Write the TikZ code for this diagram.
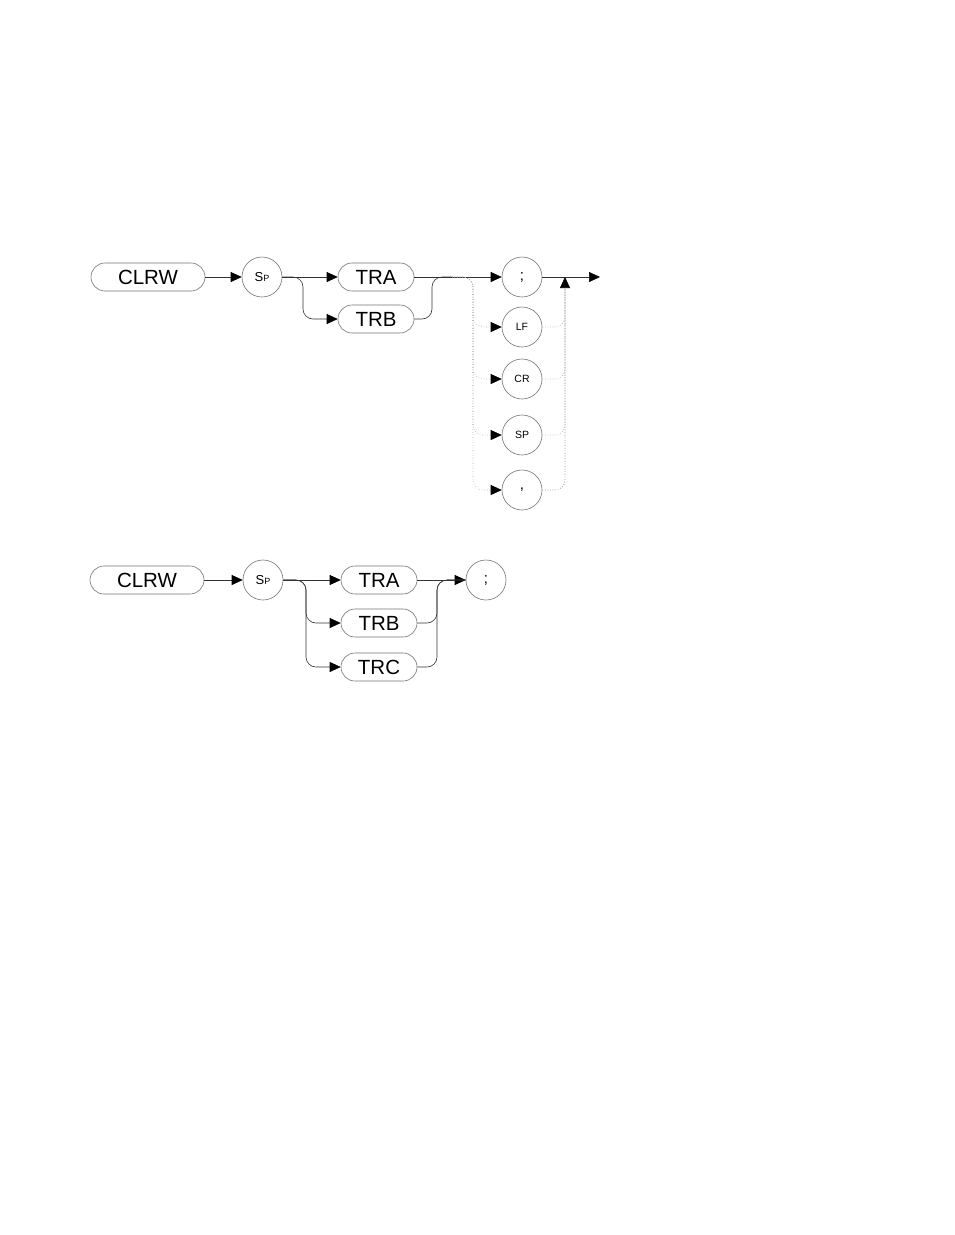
\documentclass[tikz,border=0pt]{standalone}
\usepackage{fontspec}
\setmainfont{Liberation Sans}
\usetikzlibrary{arrows.meta,calc}
\begin{document}
\begin{tikzpicture}[x=1pt,y=-1pt,
  box/.style={draw=black!55,line width=0.6pt,rounded corners=14pt,minimum height=28pt,inner sep=0pt,font=\fontsize{20.5}{20.5}\selectfont},
  wbox/.style={box,minimum width=114pt},
  tbox/.style={box,minimum width=76pt},
  circ/.style={draw=black!55,line width=0.6pt,circle,minimum size=40pt,inner sep=0pt},
  big/.style={font=\fontsize{15}{15}\selectfont},
  small/.style={font=\fontsize{10.5}{10.5}\selectfont},
  conn/.style={draw=black!80,line width=0.6pt},
  arr/.style={conn,-{Triangle[length=11pt,width=10pt,color=black]}},
  rc/.style={rounded corners=10pt},
  dotline/.style={draw=black!35,line width=0.6pt,dotted,rc},
  dotarr/.style={dotline,-{Triangle[length=11pt,width=10pt,color=black]}}]
\useasboundingbox (0,0) rectangle (954,1235);
% ---------- diagram 1 ----------
\node[wbox] (clrw1) at (148,277) {CLRW};
\node[circ] (sp1) at (262,277) {\fontsize{13}{13}\selectfont S\fontsize{9}{9}\selectfont P};
\node[tbox] (tra1) at (376,277) {TRA};
\node[tbox] (trb1) at (376,319) {TRB};
\node[circ,big] (sc1) at (522,277) {;};
\node[circ,small] (lf) at (522,327) {LF};
\node[circ,small] (cr) at (522,379) {CR};
\node[circ,small] (spc) at (522,435) {SP};
\node[circ,big] (cm) at (522,490) {,};
\coordinate (b1) at (303,277);
\coordinate (j1) at (432,277);
\coordinate (d0) at (452,277);
\coordinate (rail) at (473,277);
\coordinate (rr) at (565,277);
\coordinate (rrb) at (565,288);
\coordinate (end1) at (600,277);
\draw[arr] (clrw1.east) -- (sp1.west);
\draw[arr] (sp1.east) -- (tra1.west);
\draw[arr,rc] (sp1.east) -| (b1 |- trb1.west) -- (trb1.west);
\draw[arr] (tra1.east) -- (sc1.west);
\draw[conn,rc] (trb1.east) -| (j1) -- (d0);
\draw[arr] (sc1.east) -- (end1);
\foreach \c in {lf,cr,spc,cm}{
  \draw[dotarr] (d0) -| (rail |- \c.west) -- (\c.west);
  \draw[dotline] (\c.east) -| (rrb);
}
\draw[dotline,-{Triangle[length=11pt,width=10pt,color=black]}] (cm.east) -| (rr);
% ---------- diagram 2 ----------
\node[wbox] (clrw2) at (147,580) {CLRW};
\node[circ] (sp2) at (263,580) {\fontsize{13}{13}\selectfont S\fontsize{9}{9}\selectfont P};
\node[tbox] (tra2) at (379,580) {TRA};
\node[tbox] (trb2) at (379,623) {TRB};
\node[tbox] (trc2) at (379,667) {TRC};
\node[circ,big] (sc2) at (486,580) {;};
\coordinate (b2) at (306,580);
\coordinate (j2) at (437,580);
\draw[arr] (clrw2.east) -- (sp2.west);
\draw[arr] (sp2.east) -- (tra2.west);
\draw[arr,rc] (sp2.east) -| (b2 |- trb2.west) -- (trb2.west);
\draw[arr,rc] (sp2.east) -| (b2 |- trc2.west) -- (trc2.west);
\draw[arr] (tra2.east) -- (sc2.west);
\draw[conn,rc] (trb2.east) -| (j2) -- (sc2.west);
\draw[conn,rc] (trc2.east) -| (j2) -- (sc2.west);
\end{tikzpicture}
\end{document}
